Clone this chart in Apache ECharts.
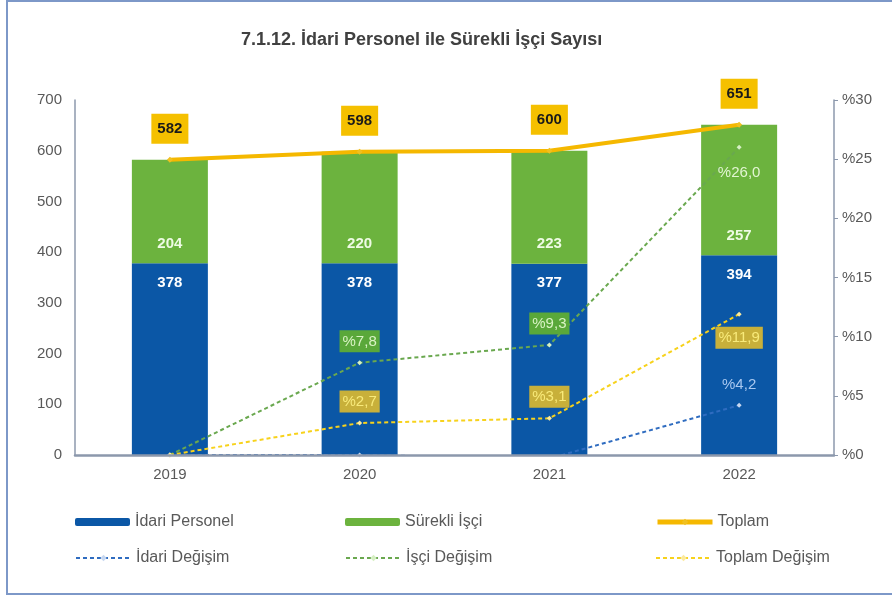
<!DOCTYPE html>
<html>
<head>
<meta charset="utf-8">
<script src="https://cdn.jsdelivr.net/npm/echarts@6/dist/echarts.min.js"></script>
<style>
  html, body { margin: 0; padding: 0; background: #ffffff; }
  #chart { width: 892px; height: 598px; }
</style>
</head>
<body>
<div id="chart"></div>
<script>
// Yearly headcounts and year-over-year change rates
const years = ['2019', '2020', '2021', '2022'];
const idariPersonel = [378, 378, 377, 394];
const surekliIsci = [204, 220, 223, 257];
const toplam = [582, 598, 600, 651];
const idariDegisim = [0, 0, -0.3, 4.2];
const isciDegisim = [0, 7.8, 9.3, 26.0];
const toplamDegisim = [0, 2.7, 3.1, 11.9];
const leftTicks = [0, 100, 200, 300, 400, 500, 600, 700];
const rightTicks = [0, 5, 10, 15, 20, 25, 30];

const FONT = '"Liberation Sans Narrow", "Liberation Sans", Arial, sans-serif';
const C_BLUE = '#0b57a6';
const C_GREEN = '#6cb33e';
const C_GOLD = '#f5b800';

const pct = v => '%' + v.toFixed(1).replace('.', ',');

// per-point label placement for the change series
function changeData(values, placements) {
  return values.map((v, i) => {
    const p = placements[i];
    if (!p) return { value: v, label: { show: false } };
    return { value: v, label: Object.assign({ show: true }, p) };
  });
}

const isciBox = { position: 'top', distance: 8, backgroundColor: '#5aa83a', color: '#d9f3c4', padding: [4, 3, 3, 3] };
const toplamBox = { position: 'top', distance: 8, backgroundColor: '#c8b03a', color: '#f8ea7a', padding: [4, 3, 3, 3] };

const chart = echarts.init(document.getElementById('chart'), null, { renderer: 'canvas' });

const legendBase = {
  orient: 'horizontal',
  itemWidth: 55,
  itemHeight: 8,
  textStyle: { fontFamily: FONT, fontSize: 16, color: '#595959' },
  itemGap: 4
};

chart.setOption({
  backgroundColor: '#ffffff',
  animation: false,
  title: {
    text: '{b|7.1.12.} {n|İdari Personel ile Sürekli İşçi Sayısı}',
    left: 236,
    top: 26,
    textStyle: {
      rich: {
        b: { fontFamily: FONT, fontSize: 18, fontWeight: 'bold', color: '#404040' },
        n: { fontFamily: FONT, fontSize: 18, color: '#404040' }
      }
    }
  },
  graphic: [{
    type: 'rect',
    shape: { x: 7, y: 1, width: 895, height: 593 },
    style: { fill: 'none', stroke: '#7d98c8', lineWidth: 2 },
    silent: true
  }],
  legend: [
    Object.assign({}, legendBase, { data: ['İdari Personel'], left: 70, top: 509 }),
    Object.assign({}, legendBase, { data: ['Sürekli İşçi'], left: 340, top: 509 }),
    Object.assign({}, legendBase, { data: [{ name: 'Toplam', lineStyle: { width: 5 } }], left: 650, top: 509 }),
    Object.assign({}, legendBase, { data: ['İdari Değişim'], left: 70, top: 545 }),
    Object.assign({}, legendBase, { data: ['İşçi Değişim'], left: 340, top: 545 }),
    Object.assign({}, legendBase, { data: ['Toplam Değişim'], left: 650, top: 545 })
  ],
  grid: { left: 75, right: 58, top: 100, bottom: 143 },
  xAxis: {
    type: 'category',
    data: years,
    z: 10,
    axisLine: { lineStyle: { color: '#8c98ac', width: 2.5 } },
    axisTick: { show: false },
    axisLabel: { fontFamily: FONT, fontSize: 15, color: '#595959', margin: 12 }
  },
  yAxis: [{
    type: 'value',
    min: leftTicks[0],
    max: leftTicks[leftTicks.length - 1],
    interval: leftTicks[1] - leftTicks[0],
    axisLine: { show: true, lineStyle: { color: '#8c98ac', width: 1.5 } },
    axisTick: { show: false },
    splitLine: { show: false },
    axisLabel: { fontFamily: FONT, fontSize: 15, color: '#595959', margin: 13 }
  }, {
    type: 'value',
    min: rightTicks[0],
    max: rightTicks[rightTicks.length - 1],
    interval: rightTicks[1] - rightTicks[0],
    position: 'right',
    axisLine: { show: true, lineStyle: { color: '#8c98ac', width: 1.5 } },
    axisTick: { show: true, length: 4, lineStyle: { color: '#8c98ac' } },
    splitLine: { show: false },
    axisLabel: { fontFamily: FONT, fontSize: 15, color: '#595959', margin: 8, formatter: v => '%' + v }
  }],
  series: [{
    name: 'İdari Personel',
    type: 'bar',
    stack: 'toplam',
    data: idariPersonel,
    barWidth: 76,
    itemStyle: { color: C_BLUE },
    label: {
      show: true, position: 'insideTop', distance: 12,
      fontFamily: FONT, fontSize: 15, fontWeight: 'bold', color: '#ffffff'
    },
    z: 2
  }, {
    name: 'Sürekli İşçi',
    type: 'bar',
    stack: 'toplam',
    data: surekliIsci,
    barWidth: 76,
    itemStyle: { color: C_GREEN },
    label: {
      show: true, position: 'insideBottom', distance: 12,
      fontFamily: FONT, fontSize: 15, fontWeight: 'bold', color: '#eefbe4'
    },
    z: 2
  }, {
    name: 'Toplam',
    type: 'line',
    yAxisIndex: 0,
    data: toplam,
    symbol: 'diamond',
    symbolSize: 6,
    lineStyle: { color: C_GOLD, width: 4 },
    itemStyle: { color: '#f0c020' },
    label: {
      show: true, position: 'top', distance: 13,
      backgroundColor: '#f5c000', padding: [8, 6, 7, 6],
      fontFamily: FONT, fontSize: 15, fontWeight: 'bold', color: '#1a1a1a'
    },
    z: 6
  }, {
    name: 'İdari Değişim',
    type: 'line',
    yAxisIndex: 1,
    clip: true,
    data: changeData(idariDegisim, [null, null, null,
      { position: 'top', distance: 10, color: '#a9c8f0' }]),
    symbol: 'diamond',
    symbolSize: 5,
    lineStyle: { color: '#2f6cc0', width: 2, type: [4, 3] },
    itemStyle: { color: '#c8d8f0' },
    label: { fontFamily: FONT, fontSize: 15, formatter: p => pct(p.value) },
    z: 5
  }, {
    name: 'İşçi Değişim',
    type: 'line',
    yAxisIndex: 1,
    data: changeData(isciDegisim, [null,
      Object.assign({}, isciBox),
      Object.assign({}, isciBox),
      { position: 'bottom', distance: 16, color: '#e2f5d2' }]),
    symbol: 'diamond',
    symbolSize: 5,
    lineStyle: { color: '#6aa84f', width: 2, type: [4, 3] },
    itemStyle: { color: '#d6efc4' },
    label: { fontFamily: FONT, fontSize: 15, formatter: p => pct(p.value) },
    z: 5
  }, {
    name: 'Toplam Değişim',
    type: 'line',
    yAxisIndex: 1,
    data: changeData(toplamDegisim, [null,
      Object.assign({}, toplamBox),
      Object.assign({}, toplamBox),
      Object.assign({}, toplamBox, { position: 'bottom', distance: 10 })]),
    symbol: 'diamond',
    symbolSize: 5,
    lineStyle: { color: '#f7d21c', width: 2, type: [4, 3] },
    itemStyle: { color: '#fbeaa0' },
    label: { fontFamily: FONT, fontSize: 15, formatter: p => pct(p.value) },
    z: 5
  }]
});
</script>
</body>
</html>
